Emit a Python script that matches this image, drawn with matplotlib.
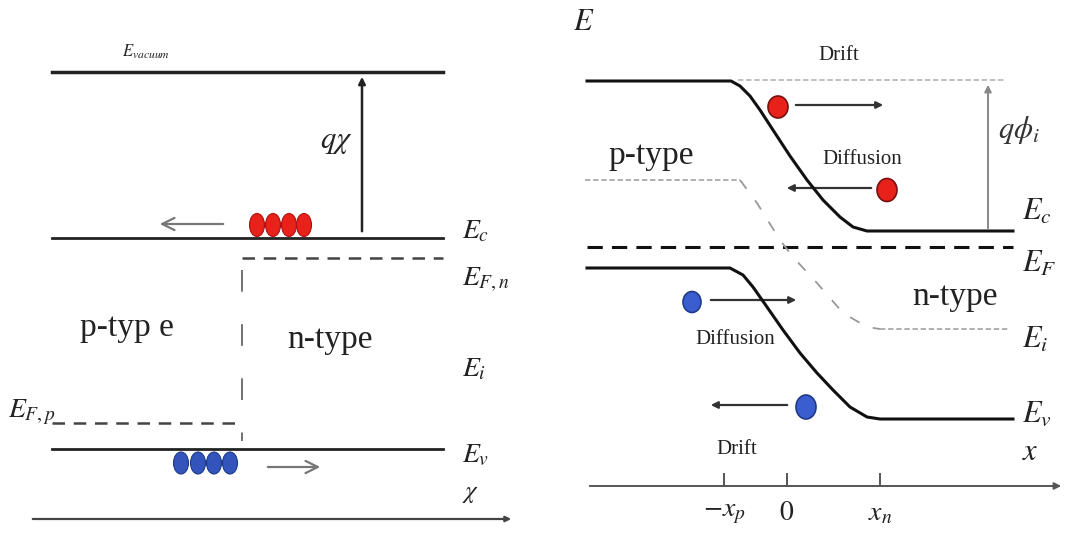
import matplotlib
matplotlib.use('agg')
import matplotlib.pyplot as plt
from matplotlib.patches import Ellipse, FancyArrowPatch

plt.rcParams['mathtext.fontset'] = 'stix'
plt.rcParams['font.family'] = ['Liberation Serif', 'DejaVu Serif']

# ---- left panel: flat band levels (pixel rows) ----
left_x = [52, 443]
left_vacuum_y = 72
left_ec_y = 238
left_efn_y = 258
left_efp_y = 423
left_ev_y = 449
left_junction_x = 242
left_axis_y = 519
left_electrons_x = [257, 273, 289, 304]
left_holes_x = [181, 198, 214, 230]

# ---- right panel: band bending ----
cb_x = [587, 731, 740, 750, 760, 773, 790, 807, 823, 840, 853, 867, 1013]
cb_y = [81, 81, 86, 96, 110, 130, 156, 180, 200, 217, 227, 231, 231]
vb_x = [587, 730, 743, 753, 767, 783, 800, 817, 833, 850, 867, 880, 1013]
vb_y = [268, 268, 275, 287, 307, 330, 353, 373, 390, 407, 417, 419, 419]
ei_x = [585, 740, 757, 780, 793, 817, 843, 867, 880, 1008]
ei_y = [180, 180, 203, 240, 257, 283, 313, 327, 329, 329]
ef_y = 247
tick_x = [724, 787, 880]
tick_labels = ['$-x_p$', '$0$', '$x_n$']

fig = plt.figure(figsize=(10.66, 5.39), dpi=100)
ax = fig.add_axes([0, 0, 1, 1])
ax.set_xlim(0, 1066)
ax.set_ylim(539, 0)
ax.axis('off')

serif = 'Liberation Serif'

# ================= left panel =================
ax.plot(left_x, [left_vacuum_y] * 2, color='#222222', lw=2.5)
ax.plot(left_x, [left_ec_y] * 2, color='#222222', lw=2)
ax.plot(left_x, [left_ev_y] * 2, color='#222222', lw=2)
ax.plot([left_junction_x, left_x[1]], [left_efn_y] * 2, color='#444444', lw=1.8, ls=(0, (5, 3.5)))
ax.plot([left_x[0], left_junction_x], [left_efp_y] * 2, color='#444444', lw=1.8, ls=(0, (5, 3.5)))
ax.plot([left_junction_x] * 2, [left_efn_y + 12, left_ev_y - 8], color='#666666', lw=1.3,
        ls=(0, (12, 18)))

# q chi arrow
ax.add_patch(FancyArrowPatch((362, left_ec_y - 4), (362, left_vacuum_y + 2),
                             arrowstyle='-|>', mutation_scale=10, color='#222222', lw=1.8))
ax.text(336, 142, r'$q\chi$', fontsize=22, ha='center', va='center', color='#222222')
ax.text(122, 52, r'$E_{vacuum}$', fontsize=12, ha='left', va='center', color='#222222')

# electrons / holes
for x in left_electrons_x:
    ax.add_patch(Ellipse((x, 225), 15, 23, facecolor='#e8211b', edgecolor='#b01010', lw=0.8))
for x in left_holes_x:
    ax.add_patch(Ellipse((x, 463), 15, 22, facecolor='#3355bb', edgecolor='#1f3a8a', lw=0.8))

# open arrows
ax.add_patch(FancyArrowPatch((226, 224), (157, 224), arrowstyle='->', mutation_scale=22,
                             color='#777777', lw=1.6))
ax.add_patch(FancyArrowPatch((265, 467), (323, 467), arrowstyle='->', mutation_scale=22,
                             color='#777777', lw=1.6))

ax.text(80, 328, 'p-typ e', fontsize=24, family=serif, ha='left', va='center', color='#222222')
ax.text(287, 340, 'n-type', fontsize=24, family=serif, ha='left', va='center', color='#222222')

ax.text(462, 232, r'$E_c$', fontsize=20, ha='left', va='center', color='#222222')
ax.text(462, 280, r'$E_{F,n}$', fontsize=20, ha='left', va='center', color='#222222')
ax.text(462, 370, r'$E_i$', fontsize=20, ha='left', va='center', color='#222222')
ax.text(462, 456, r'$E_v$', fontsize=20, ha='left', va='center', color='#222222')
ax.text(8, 412, r'$E_{F,p}$', fontsize=20, ha='left', va='center', color='#222222')
ax.text(462, 494, r'$\chi$', fontsize=18, ha='left', va='center', color='#222222')

# x axis left
ax.add_patch(FancyArrowPatch((30, left_axis_y), (514, left_axis_y), arrowstyle='-|>',
                             mutation_scale=8, color='#444444', lw=1.6))

# ================= right panel =================
ax.plot(cb_x, cb_y, color='#111111', lw=2.2)
ax.plot(vb_x, vb_y, color='#111111', lw=2.2)
ax.plot([587, 1013], [ef_y] * 2, color='#111111', lw=2.2, ls=(0, (5, 3)))
ax.plot(ei_x[:2], ei_y[:2], color='#aaaaaa', lw=1.3, ls=(0, (3, 1.5)))
ax.plot(ei_x[1:-1], ei_y[1:-1], color='#999999', lw=1.3, ls=(0, (6, 8)))
ax.plot(ei_x[-2:], ei_y[-2:], color='#aaaaaa', lw=1.3, ls=(0, (3, 1.5)))
ax.plot([738, 1005], [80, 80], color='#bbbbbb', lw=1.3, ls=(0, (3, 1.5)))

ax.add_patch(FancyArrowPatch((988, 231), (988, 82), arrowstyle='-|>', mutation_scale=10,
                             color='#888888', lw=1.4))
ax.text(998, 130, r'$q\phi_i$', fontsize=22, ha='left', va='center', color='#333333')

# carriers with arrows
ax.add_patch(Ellipse((778, 107), 20, 22, facecolor='#e8211b', edgecolor='#7a1010', lw=1.2))
ax.add_patch(FancyArrowPatch((793, 105), (886, 105), arrowstyle='-|>', mutation_scale=10,
                             color='#333333', lw=1.6))
ax.add_patch(Ellipse((887, 190), 20, 23, facecolor='#e8211b', edgecolor='#7a1010', lw=1.2))
ax.add_patch(FancyArrowPatch((874, 188), (784, 188), arrowstyle='-|>', mutation_scale=10,
                             color='#333333', lw=1.6))
ax.add_patch(Ellipse((692, 302), 18, 21, facecolor='#3a5ecf', edgecolor='#1f3a8a', lw=1.2))
ax.add_patch(FancyArrowPatch((708, 300), (799, 300), arrowstyle='-|>', mutation_scale=10,
                             color='#333333', lw=1.6))
ax.add_patch(Ellipse((806, 407), 20, 24, facecolor='#3a5ecf', edgecolor='#1f3a8a', lw=1.2))
ax.add_patch(FancyArrowPatch((790, 405), (708, 405), arrowstyle='-|>', mutation_scale=10,
                             color='#333333', lw=1.6))

ax.text(839, 55, 'Drift', fontsize=15, family=serif, ha='center', va='center', color='#222222')
ax.text(862, 160, 'Diffusion', fontsize=15, family=serif, ha='center', va='center', color='#222222')
ax.text(735, 340, 'Diffusion', fontsize=15, family=serif, ha='center', va='center', color='#222222')
ax.text(737, 449, 'Drift', fontsize=15, family=serif, ha='center', va='center', color='#222222')
ax.text(651, 156, 'p-type', fontsize=24, family=serif, ha='center', va='center', color='#222222')
ax.text(955, 297, 'n-type', fontsize=24, family=serif, ha='center', va='center', color='#222222')

ax.text(573, 22, r'$E$', fontsize=22, ha='left', va='center', color='#222222')
ax.text(1022, 212, r'$E_c$', fontsize=22, ha='left', va='center', color='#222222')
ax.text(1022, 264, r'$E_F$', fontsize=22, ha='left', va='center', color='#222222')
ax.text(1022, 340, r'$E_i$', fontsize=22, ha='left', va='center', color='#222222')
ax.text(1022, 414, r'$E_v$', fontsize=22, ha='left', va='center', color='#222222')
ax.text(1022, 452, r'$x$', fontsize=22, ha='left', va='center', color='#222222')

# x axis right
ax.add_patch(FancyArrowPatch((587, 486), (1064, 486), arrowstyle='-|>', mutation_scale=10,
                             color='#555555', lw=1.4))
for x, lab in zip(tick_x, tick_labels):
    ax.plot([x, x], [474, 486], color='#555555', lw=1.4)
    ax.text(x, 514, lab, fontsize=20, ha='center', va='center', color='#222222')

fig.savefig('out.png', dpi=100)
